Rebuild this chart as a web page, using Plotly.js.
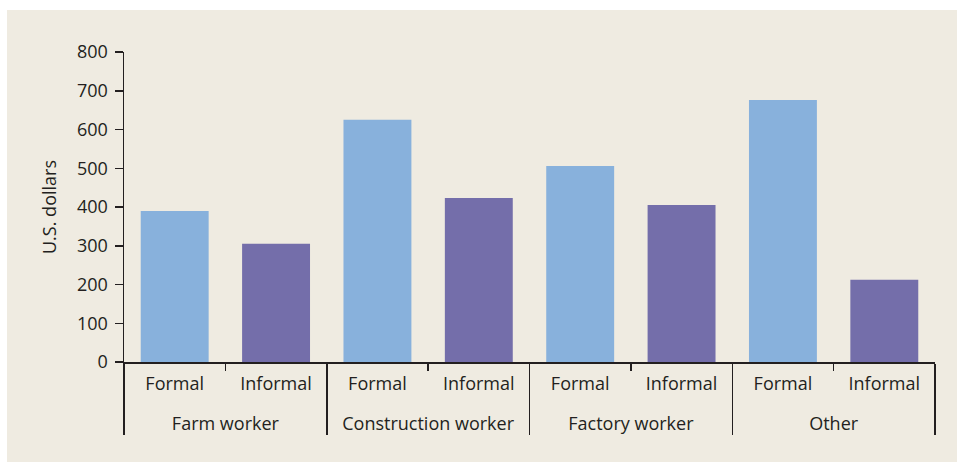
<!DOCTYPE html>
<html>
<head>
<meta charset="utf-8">
<script src="https://cdn.plot.ly/plotly-3.0.1.min.js"></script>
<style>
  html, body { margin: 0; padding: 0; background: #ffffff; width: 957px; height: 462px; overflow: hidden; }
  #chart { position: absolute; left: 7px; top: 10px; width: 950px; height: 452px; }
</style>
</head>
<body>
<div id="chart"></div>
<script>
const groups = ['Farm worker', 'Construction worker', 'Factory worker', 'Other'];
const subLabels = ['Formal', 'Informal'];
const formalValues = [390, 625, 506, 676];
const informalValues = [305, 423, 405, 212];
const yTickValues = [0, 100, 200, 300, 400, 500, 600, 700, 800];

const textColor = '#231f20';
const fontFamily = '"Open Sans", Lato, sans-serif';

// axis labels styled at 18px; group names get a leading line break so they sit lower
const big = s => '<span style="font-size:18px">' + s + '</span>';
const groupAxisLabels = groups.map(g => '<br>' + big(g));
const subAxisLabels = subLabels.map(big);

const traces = [
  {
    type: 'bar',
    name: subLabels[0],
    x: [groupAxisLabels, groups.map(() => subAxisLabels[0])],
    y: formalValues,
    marker: { color: '#88b1dc' },
    hoverinfo: 'skip'
  },
  {
    type: 'bar',
    name: subLabels[1],
    x: [groupAxisLabels, groups.map(() => subAxisLabels[1])],
    y: informalValues,
    marker: { color: '#746eaa' },
    hoverinfo: 'skip'
  }
];

const layout = {
  width: 950,
  height: 452,
  paper_bgcolor: '#efebe1',
  plot_bgcolor: '#efebe1',
  showlegend: false,
  barmode: 'overlay',
  bargap: 0.33,
  margin: { l: 117, r: 22, t: 42, b: 100 },
  font: { family: fontFamily, size: 18, color: textColor },
  xaxis: {
    type: 'multicategory',
    showline: true,
    linecolor: textColor,
    linewidth: 1.5,
    ticks: 'outside',
    ticklen: 7,
    tickwidth: 1.5,
    tickcolor: textColor,
    ticklabelstandoff: 7,
    showdividers: true,
    dividercolor: textColor,
    dividerwidth: 1.5,
    showgrid: false,
    zeroline: false,
    tickfont: { family: fontFamily, size: 16, color: textColor }
  },
  yaxis: {
    range: [0, 800],
    tickvals: yTickValues,
    ticktext: yTickValues.map(String),
    showline: true,
    linecolor: textColor,
    linewidth: 1.5,
    ticks: 'outside',
    ticklen: 8,
    tickwidth: 1.5,
    tickcolor: textColor,
    ticklabelstandoff: 3,
    showgrid: false,
    zeroline: false,
    tickfont: { family: fontFamily, size: 18, color: textColor },
    title: { text: 'U.S. dollars', font: { family: fontFamily, size: 18, color: textColor }, standoff: 15 },
    automargin: true
  }
};

Plotly.newPlot('chart', traces, layout, { staticPlot: true, displayModeBar: false });
</script>
</body>
</html>
